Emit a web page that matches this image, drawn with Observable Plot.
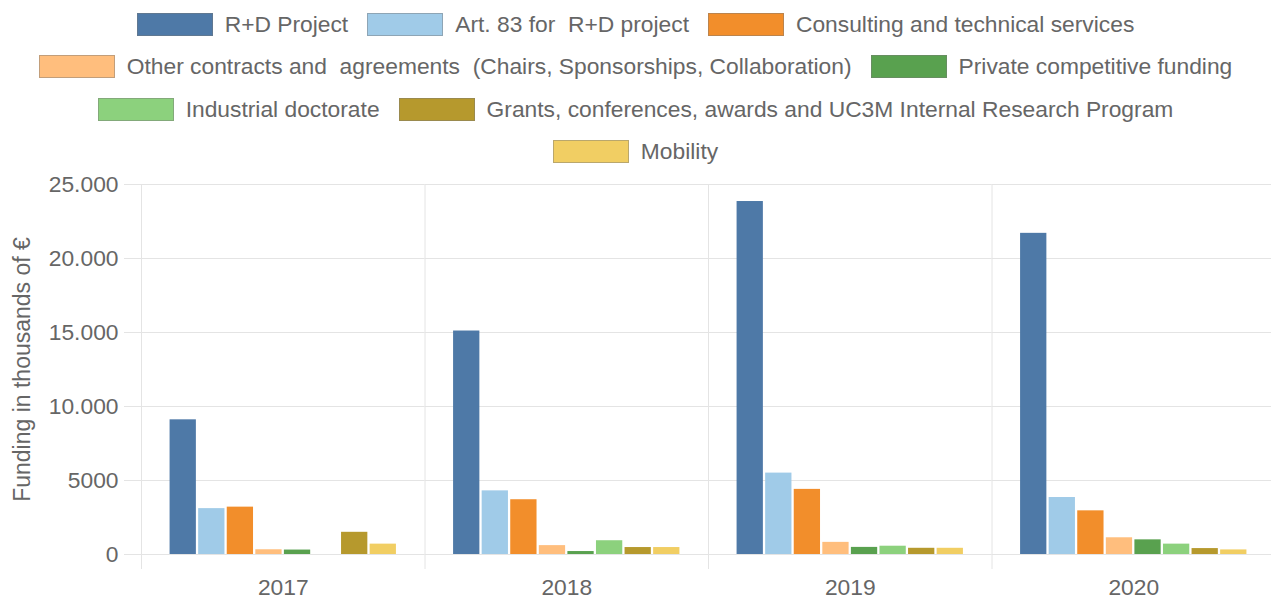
<!DOCTYPE html>
<html>
<head>
<meta charset="utf-8">
<script src="https://cdn.jsdelivr.net/npm/d3@7"></script>
<script src="https://cdn.jsdelivr.net/npm/@observablehq/plot@0.6"></script>
<style>
  html, body { margin: 0; padding: 0; background: #fff; overflow: hidden; width: 1271px; height: 599px; }
  #legend { height: 170px; box-sizing: border-box; padding-top: 3px; font-family: "Liberation Sans", Arial, Helvetica, sans-serif; font-size: 22.8px; color: #666; }
  .row { display: flex; justify-content: center; align-items: center; height: 42.5px; white-space: pre; }
  .item { display: flex; align-items: center; margin: 0 9.5px; }
  .box { width: 76px; height: 23px; box-sizing: border-box; border: 1px solid rgba(120,120,120,0.45); margin-right: 12px; }
</style>
</head>
<body>
<div id="legend"></div>
<div id="chart"></div>
<script>
const years = ["2017", "2018", "2019", "2020"];
const series = [
  "R+D Project",
  "Art. 83 for  R+D project",
  "Consulting and technical services",
  "Other contracts and  agreements  (Chairs, Sponsorships, Collaboration)",
  "Private competitive funding",
  "Industrial doctorate",
  "Grants, conferences, awards and UC3M Internal Research Program",
  "Mobility"
];
const colors = ["#4e79a7", "#a0cbe8", "#f28e2b", "#ffbe7d", "#59a14f", "#8cd17d", "#b6992d", "#f1ce63"];
const rdProject     = [9100, 15100, 23850, 21700];
const art83         = [3100, 4300, 5500, 3850];
const consulting    = [3200, 3700, 4400, 2950];
const otherContracts= [320, 600, 820, 1130];
const privateFunding= [300, 200, 480, 990];
const industrialDoc = [null, 930, 560, 700];
const grants        = [1500, 470, 420, 400];
const mobility      = [700, 470, 420, 310];
const yTicks = [0, 5000, 10000, 15000, 20000, 25000];
const yTickLabels = ["0", "5000", "10.000", "15.000", "20.000", "25.000"];
const yTitle = "Funding in thousands of €";
const legendRows = [[0, 1, 2], [3, 4], [5, 6], [7]];

const valuesBySeries = [rdProject, art83, consulting, otherContracts, privateFunding, industrialDoc, grants, mobility];
const data = [];
series.forEach((s, si) => years.forEach((y, yi) => {
  const v = valuesBySeries[si][yi];
  if (v != null) data.push({series: s, year: y, value: v});
}));

// Legend
const legend = document.getElementById("legend");
legendRows.forEach(r => {
  const row = document.createElement("div");
  row.className = "row";
  r.forEach(i => {
    const item = document.createElement("div");
    item.className = "item";
    const box = document.createElement("span");
    box.className = "box";
    box.style.background = colors[i];
    const label = document.createElement("span");
    label.textContent = series[i];
    item.appendChild(box);
    item.appendChild(label);
    row.appendChild(item);
  });
  legend.appendChild(row);
});

const grid = "#e4e4e4";
const chart = Plot.plot({
  width: 1275,
  height: 429,
  marginTop: 14,
  marginBottom: 45,
  marginLeft: 141,
  marginRight: 0,
  style: {fontFamily: "'Liberation Sans', Arial, Helvetica, sans-serif", fontSize: "22.8px", color: "#666", background: "#fff", maxWidth: "none", overflow: "visible"},
  fx: {domain: years, padding: 0, round: false, label: null},
  x: {domain: series, paddingInner: 0.08, paddingOuter: 1.0, round: false, axis: null},
  y: {domain: [0, 25000], label: null},
  color: {domain: series, range: colors},
  marks: [
    Plot.ruleY(yTicks, {stroke: grid, strokeWidth: 1}),
    Plot.frame({anchor: "left", stroke: grid, strokeWidth: 1, insetBottom: -14}),
    Plot.axisY({ticks: yTicks, tickFormat: d => yTickLabels[yTicks.indexOf(d)], tickSize: 17, tickPadding: 6, stroke: grid, label: null, fontSize: 22.8}),
    Plot.axisFx({anchor: "bottom", tickSize: 0, tickPadding: 24, label: null, fontSize: 22.8}),
    Plot.text([yTitle], {fx: () => years[0], frameAnchor: "left", dx: -119, rotate: -90, textAnchor: "middle", text: d => d, fontSize: 23, fill: "#666"}),
    Plot.barY(data, {fx: "year", x: "series", y: "value", fill: "series"})
  ]
});
document.getElementById("chart").appendChild(chart);
</script>
</body>
</html>
